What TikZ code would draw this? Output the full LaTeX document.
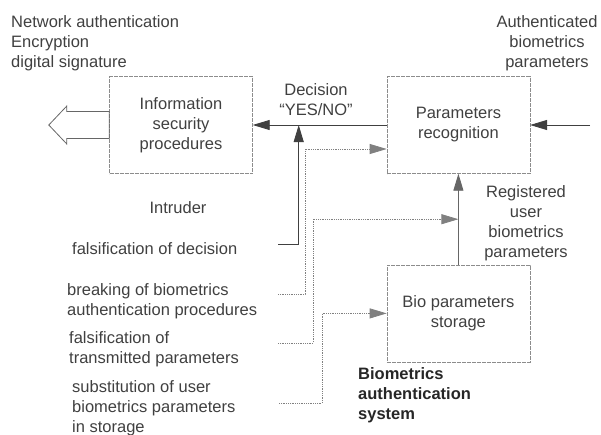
\documentclass[tikz,border=0pt]{standalone}
\usepackage{fontspec}
\setmainfont{Liberation Sans}
\usetikzlibrary{positioning, arrows.meta, calc}

\begin{document}
\begin{tikzpicture}[
      x=1pt, y=1pt,
      >={Triangle[length=17pt,width=10pt]},
      font=\fontsize{16.5}{20}\selectfont,
      every node/.style={text=black!75},
      procblock/.style={
        rectangle,
        draw=black!45,
        dash pattern=on 4pt off 1pt,
        align=center,
        minimum width=143pt,
        minimum height=97pt,
      },
      caption/.style={
        align=left,
        anchor=base west,
        inner sep=0pt,
      },
      mainline/.style={draw=black!75, line width=0.9pt},
      attack/.style={draw=black!50, densely dotted, line width=0.8pt},
      hollow/.style={draw=black!60, line width=0.8pt},
    ]
      \useasboundingbox (0,0) rectangle (601,-434);

      % processing blocks
      \node[procblock] (infosec) at (181,-125) {Information\\security\\procedures};
      \node[procblock, right=134pt of infosec] (recog) {Parameters\\recognition};
      \node[procblock, below=91pt of recog] (storage) {Bio parameters\\storage};

      % output of the security procedures
      \draw[hollow] (infosec.west) ++(0,13.5) -- ++(-42.5,0) -- ++(0,5.5)
        -- ++(-18,-19) -- ++(18,-19) -- ++(0,5.5) -- ++(42.5,0) -- cycle;

      % texts (placed at the baseline of their last line)
      \node[caption] (nettasks) at (11,-67) {Network authentication\\Encryption\\digital signature};
      \node[caption, align=center, anchor=base] (authin) at (547,-67) {Authenticated\\biometrics\\parameters};
      \node[caption, align=center, anchor=base] (decision) at (316,-115) {Decision\\``YES/NO''};
      \node[caption, align=center, anchor=base] (regparams) at (526,-257) {Registered\\user\\biometrics\\parameters};
      \node[caption, anchor=base] (intruder) at (178,-213) {Intruder};
      \node[caption] (fdecision) at (72,-254) {falsification of decision};
      \node[caption] (fbreak) at (67,-315) {breaking of biometrics\\authentication procedures};
      \node[caption] (ftrans) at (69,-363) {falsification of\\transmitted parameters};
      \node[caption] (fsubst) at (72,-432) {substitution of user\\biometrics parameters\\in storage};
      \node[caption, font=\fontsize{16.5}{20}\selectfont\bfseries, text=black!85] (system) at (358,-419) {Biometrics\\authentication\\system};

      % main flow
      \coordinate (authsrc) at (590,-125);
      \draw[mainline, ->] (authsrc) -- (recog.east);
      \draw[mainline, ->] (recog.west) -- (infosec.east);
      \draw[mainline, draw=black!60, ->] (storage.north) -- (recog.south);

      % intruder attacks
      \coordinate (fd) at (278,-244);
      \coordinate (fb) at (278,-294);
      \coordinate (ft) at (278,-343);
      \coordinate (fs) at (279,-403);
      \draw[mainline, ->] (fd) -| ([xshift=46pt]infosec.east);
      \draw[attack, ->] (fb) -- ++(27,0) |- ([yshift=-24pt]recog.west);
      \draw[attack, ->] (ft) -- ++(35,0) |- ($(recog.south)!0.5!(storage.north)$);
      \draw[attack, ->] (fs) -- ++(43,0) |- (storage.west);
    \end{tikzpicture}
\end{document}
